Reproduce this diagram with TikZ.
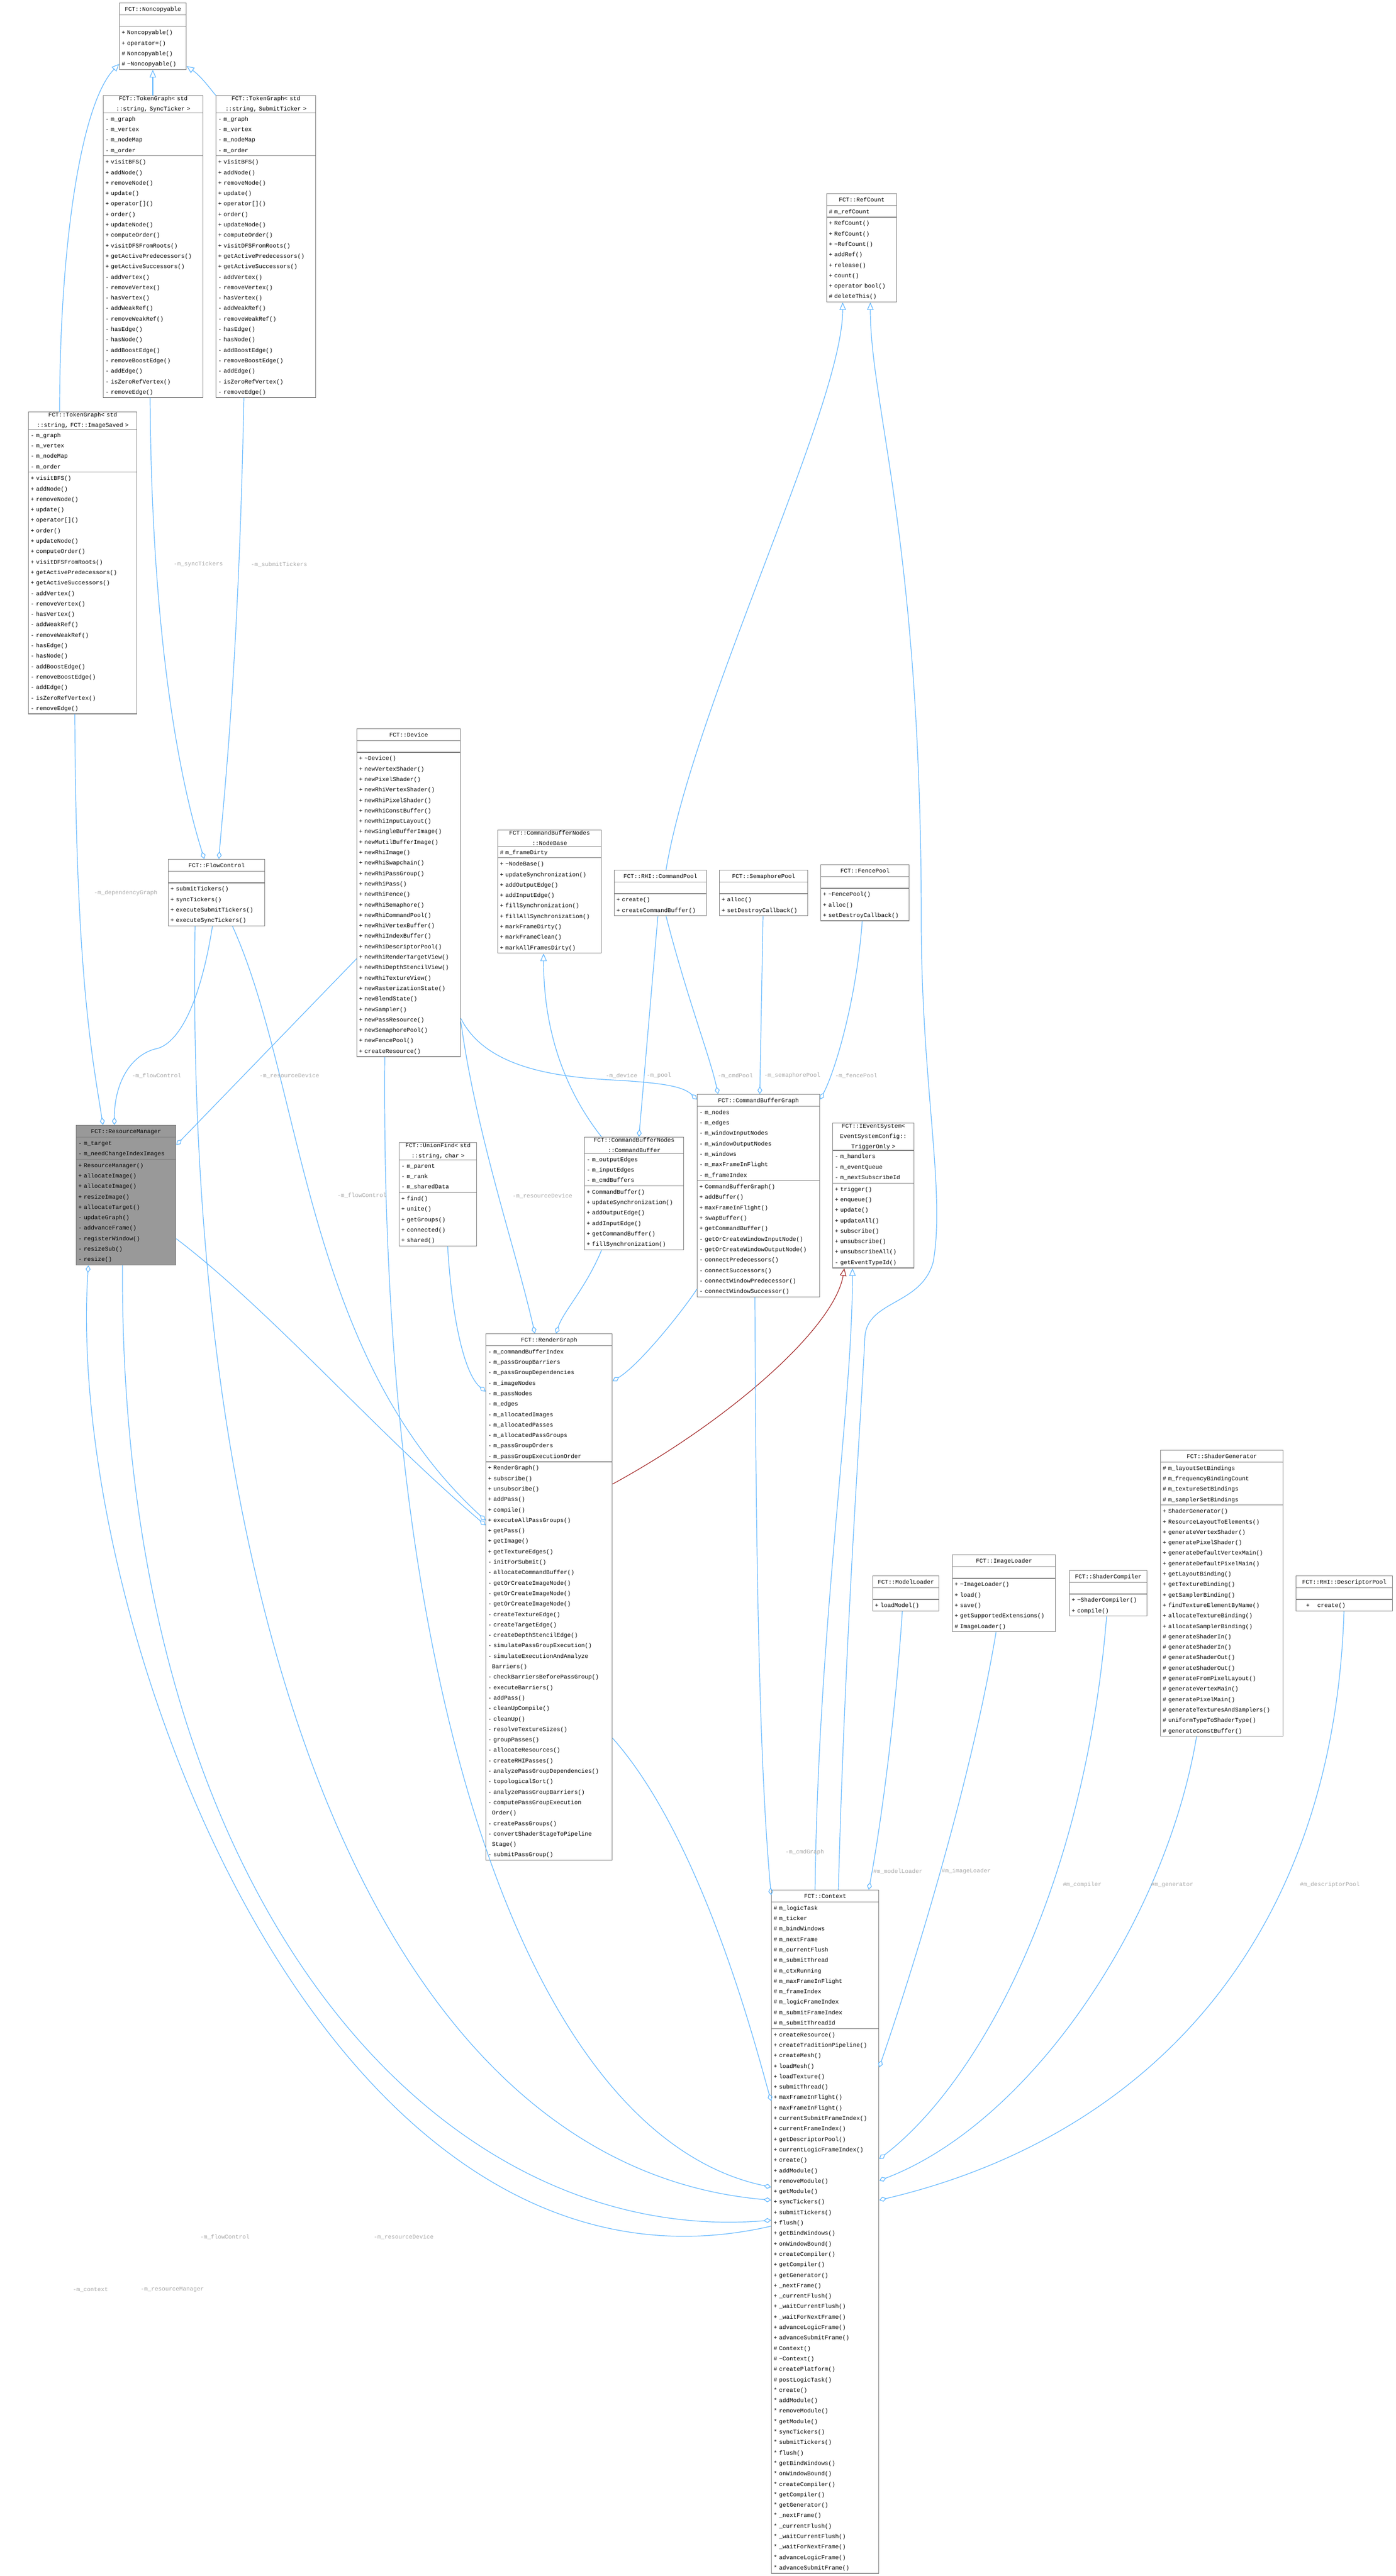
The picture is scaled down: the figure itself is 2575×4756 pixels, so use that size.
\documentclass[tikz,border=0pt]{standalone}
\usepackage{fontspec}
\usetikzlibrary{shapes.multipart,arrows.meta}
\newfontfamily\cf{Liberation Mono}
\definecolor{eblue}{HTML}{63B8FF}
\definecolor{bgray}{HTML}{808080}
\definecolor{lgray}{HTML}{A8A8A8}
\definecolor{ered}{HTML}{A52A2A}
\newcommand\Rs{\rule[-5.5pt]{0pt}{19.3pt}}
\newcommand\I[1]{\Rs#1\par}
\newcommand\T[1]{\centering #1\par}
\newcommand\E{\Rs\par}
\tikzset{
 cls/.style={draw=bgray, line width=1.3pt, fill=white, rectangle split, rectangle split parts=3,
   inner xsep=4pt, inner ysep=0.5pt, anchor=north west, font={\cf\fontsize{10.8}{19.3}\selectfont}},
 lbl/.style={text=lgray, font={\cf\fontsize{10.8}{13}\selectfont}, inner sep=0pt},
 agg/.style={draw=eblue, line width=1.2pt, -{Diamond[open,length=14pt,width=9pt]}},
 inh/.style={draw=eblue, line width=1.2pt, -{Triangle[open,length=14pt,width=12pt]}},
 inhr/.style={draw=ered, line width=1.2pt, -{Triangle[open,length=14pt,width=12pt]}}
}
\newcommand\tgm{\I{+ visitBFS()}\I{+ addNode()}\I{+ removeNode()}\I{+ update()}\I{+ operator[]()}\I{+ order()}\I{+ updateNode()}\I{+ computeOrder()}\I{+ visitDFSFromRoots()}\I{+ getActivePredecessors()}\I{+ getActiveSuccessors()}\I{- addVertex()}\I{- removeVertex()}\I{- hasVertex()}\I{- addWeakRef()}\I{- removeWeakRef()}\I{- hasEdge()}\I{- hasNode()}\I{- addBoostEdge()}\I{- removeBoostEdge()}\I{- addEdge()}\I{- isZeroRefVertex()}\I{- removeEdge()}}
\newcommand\tga{\I{- m\_graph}\I{- m\_vertex}\I{- m\_nodeMap}\I{- m\_order}}
\begin{document}
\begin{tikzpicture}[x=1pt,y=-1pt]
\useasboundingbox[fill=white] (0,0) rectangle (2575,4756);

\node[cls, text width=115pt] (nc) at (220,5) {\T{\Rs FCT::Noncopyable}\nodepart{second}\E\nodepart{third}\I{+ Noncopyable()}\I{+ operator=()}\I{\# Noncopyable()}\I{\# \textasciitilde Noncopyable()}};
\node[cls, text width=176pt] (tgs) at (190,176) {\T{FCT::TokenGraph< std\\::string, SyncTicker >}\nodepart{second}\tga\nodepart{third}\tgm};
\node[cls, text width=176pt] (tgb) at (398,176) {\T{FCT::TokenGraph< std\\::string, SubmitTicker >}\nodepart{second}\tga\nodepart{third}\tgm};
\node[cls, text width=192pt] (tgi) at (52,760) {\T{FCT::TokenGraph< std\\::string, FCT::ImageSaved >}\nodepart{second}\tga\nodepart{third}\tgm};
\node[cls, text width=121pt] (rc) at (1525,357) {\T{\Rs FCT::RefCount}\nodepart{second}\I{\# m\_refCount}\nodepart{third}\I{+ RefCount()}\I{+ RefCount()}\I{+ \textasciitilde RefCount()}\I{+ addRef()}\I{+ release()}\I{+ count()}\I{+ operator bool()}\I{\# deleteThis()}};
\node[cls, text width=183pt] (dev) at (658,1345) {\T{\Rs FCT::Device}\nodepart{second}\E\nodepart{third}\I{+ \textasciitilde Device()}\I{+ newVertexShader()}\I{+ newPixelShader()}\I{+ newRhiVertexShader()}\I{+ newRhiPixelShader()}\I{+ newRhiConstBuffer()}\I{+ newRhiInputLayout()}\I{+ newSingleBufferImage()}\I{+ newMutilBufferImage()}\I{+ newRhiImage()}\I{+ newRhiSwapchain()}\I{+ newRhiPassGroup()}\I{+ newRhiPass()}\I{+ newRhiFence()}\I{+ newRhiSemaphore()}\I{+ newRhiCommandPool()}\I{+ newRhiVertexBuffer()}\I{+ newRhiIndexBuffer()}\I{+ newRhiDescriptorPool()}\I{+ newRhiRenderTargetView()}\I{+ newRhiDepthStencilView()}\I{+ newRhiTextureView()}\I{+ newRasterizationState()}\I{+ newBlendState()}\I{+ newSampler()}\I{+ newPassResource()}\I{+ newSemaphorePool()}\I{+ newFencePool()}\I{+ createResource()}};
\node[cls, text width=183pt] (nb) at (918,1532) {\T{FCT::CommandBufferNodes\\::NodeBase}\nodepart{second}\I{\# m\_frameDirty}\nodepart{third}\I{+ \textasciitilde NodeBase()}\I{+ updateSynchronization()}\I{+ addOutputEdge()}\I{+ addInputEdge()}\I{+ fillSynchronization()}\I{+ fillAllSynchronization()}\I{+ markFrameDirty()}\I{+ markFrameClean()}\I{+ markAllFramesDirty()}};
\node[cls, text width=162pt] (cp) at (1133,1606) {\T{\Rs FCT::RHI::CommandPool}\nodepart{second}\E\nodepart{third}\I{+ create()}\I{+ createCommandBuffer()}};
\node[cls, text width=155pt] (sp) at (1327,1606) {\T{\Rs FCT::SemaphorePool}\nodepart{second}\E\nodepart{third}\I{+ alloc()}\I{+ setDestroyCallback()}};
\node[cls, text width=155pt] (fp) at (1514,1596) {\T{\Rs FCT::FencePool}\nodepart{second}\E\nodepart{third}\I{+ \textasciitilde FencePool()}\I{+ alloc()}\I{+ setDestroyCallback()}};
\node[cls, text width=170pt] (fc) at (310,1586) {\T{\Rs FCT::FlowControl}\nodepart{second}\E\nodepart{third}\I{+ submitTickers()}\I{+ syncTickers()}\I{+ executeSubmitTickers()}\I{+ executeSyncTickers()}};
\node[cls, text width=176pt, fill=gray!80, rectangle split part fill={gray!80}] (rm) at (140,2077) {\T{\Rs FCT::ResourceManager}\nodepart{second}\I{- m\_target}\I{- m\_needChangeIndexImages}\nodepart{third}\I{+ ResourceManager()}\I{+ allocateImage()}\I{+ allocateImage()}\I{+ resizeImage()}\I{+ allocateTarget()}\I{- updateGraph()}\I{- addvanceFrame()}\I{- registerWindow()}\I{- resizeSub()}\I{- resize()}};
\node[cls, text width=135pt] (uf) at (736,2109) {\T{FCT::UnionFind< std\\::string, char >}\nodepart{second}\I{- m\_parent}\I{- m\_rank}\I{- m\_sharedData}\nodepart{third}\I{+ find()}\I{+ unite()}\I{+ getGroups()}\I{+ connected()}\I{+ shared()}};
\node[cls, text width=175pt] (cb) at (1078,2099) {\T{FCT::CommandBufferNodes\\::CommandBuffer}\nodepart{second}\I{- m\_outputEdges}\I{- m\_inputEdges}\I{- m\_cmdBuffers}\nodepart{third}\I{+ CommandBuffer()}\I{+ updateSynchronization()}\I{+ addOutputEdge()}\I{+ addInputEdge()}\I{+ getCommandBuffer()}\I{+ fillSynchronization()}};
\node[cls, text width=218pt] (cbg) at (1286,2020) {\T{\Rs FCT::CommandBufferGraph}\nodepart{second}\I{- m\_nodes}\I{- m\_edges}\I{- m\_windowInputNodes}\I{- m\_windowOutputNodes}\I{- m\_windows}\I{- m\_maxFrameInFlight}\I{- m\_frameIndex}\nodepart{third}\I{+ CommandBufferGraph()}\I{+ addBuffer()}\I{+ maxFrameInFlight()}\I{+ swapBuffer()}\I{+ getCommandBuffer()}\I{- getOrCreateWindowInputNode()}\I{- getOrCreateWindowOutputNode()}\I{- connectPredecessors()}\I{- connectSuccessors()}\I{- connectWindowPredecessor()}\I{- connectWindowSuccessor()}};
\node[cls, text width=142pt] (ie) at (1536,2073) {\T{FCT::IEventSystem<\\EventSystemConfig::\\TriggerOnly >}\nodepart{second}\I{- m\_handlers}\I{- m\_eventQueue}\I{- m\_nextSubscribeId}\nodepart{third}\I{+ trigger()}\I{+ enqueue()}\I{+ update()}\I{+ updateAll()}\I{+ subscribe()}\I{+ unsubscribe()}\I{+ unsubscribeAll()}\I{- getEventTypeId()}};
\node[cls, text width=225pt] (rg) at (896,2462) {\T{\Rs FCT::RenderGraph}\nodepart{second}\I{- m\_commandBufferIndex}\I{- m\_passGroupBarriers}\I{- m\_passGroupDependencies}\I{- m\_imageNodes}\I{- m\_passNodes}\I{- m\_edges}\I{- m\_allocatedImages}\I{- m\_allocatedPasses}\I{- m\_allocatedPassGroups}\I{- m\_passGroupOrders}\I{- m\_passGroupExecutionOrder}\nodepart{third}\I{+ RenderGraph()}\I{+ subscribe()}\I{+ unsubscribe()}\I{+ addPass()}\I{+ compile()}\I{+ executeAllPassGroups()}\I{+ getPass()}\I{+ getImage()}\I{+ getTextureEdges()}\I{- initForSubmit()}\I{- allocateCommandBuffer()}\I{- getOrCreateImageNode()}\I{- getOrCreateImageNode()}\I{- getOrCreateImageNode()}\I{- createTextureEdge()}\I{- createTargetEdge()}\I{- createDepthStencilEdge()}\I{- simulatePassGroupExecution()}\I{- simulateExecutionAndAnalyze}\I{\ \ Barriers()}\I{- checkBarriersBeforePassGroup()}\I{- executeBarriers()}\I{- addPass()}\I{- cleanUpCompile()}\I{- cleanUp()}\I{- resolveTextureSizes()}\I{- groupPasses()}\I{- allocateResources()}\I{- createRHIPasses()}\I{- analyzePassGroupDependencies()}\I{- topologicalSort()}\I{- analyzePassGroupBarriers()}\I{- computePassGroupExecution}\I{\ \ Order()}\I{- createPassGroups()}\I{- convertShaderStageToPipeline}\I{\ \ Stage()}\I{- submitPassGroup()}};
\node[cls, text width=114pt] (ml) at (1610,2909) {\T{\Rs FCT::ModelLoader}\nodepart{second}\E\nodepart{third}\I{+ loadModel()}};
\node[cls, text width=182pt] (il) at (1757,2870) {\T{\Rs FCT::ImageLoader}\nodepart{second}\E\nodepart{third}\I{+ \textasciitilde ImageLoader()}\I{+ load()}\I{+ save()}\I{+ getSupportedExtensions()}\I{\# ImageLoader()}};
\node[cls, text width=135pt] (sc) at (1973,2899) {\T{\Rs FCT::ShaderCompiler}\nodepart{second}\E\nodepart{third}\I{+ \textasciitilde ShaderCompiler()}\I{+ compile()}};
\node[cls, text width=218pt] (sg) at (2141,2677) {\T{\Rs FCT::ShaderGenerator}\nodepart{second}\I{\# m\_layoutSetBindings}\I{\# m\_frequencyBindingCount}\I{\# m\_textureSetBindings}\I{\# m\_samplerSetBindings}\nodepart{third}\I{+ ShaderGenerator()}\I{+ ResourceLayoutToElements()}\I{+ generateVertexShader()}\I{+ generatePixelShader()}\I{+ generateDefaultVertexMain()}\I{+ generateDefaultPixelMain()}\I{+ getLayoutBinding()}\I{+ getTextureBinding()}\I{+ getSamplerBinding()}\I{+ findTextureElementByName()}\I{+ allocateTextureBinding()}\I{+ allocateSamplerBinding()}\I{\# generateShaderIn()}\I{\# generateShaderIn()}\I{\# generateShaderOut()}\I{\# generateShaderOut()}\I{\# generateFromPixelLayout()}\I{\# generateVertexMain()}\I{\# generatePixelMain()}\I{\# generateTexturesAndSamplers()}\I{\# uniformTypeToShaderType()}\I{\# generateConstBuffer()}};
\node[cls, text width=170pt] (dp) at (2391,2909) {\T{\Rs FCT::RHI::DescriptorPool}\nodepart{second}\E\nodepart{third}\I{\ \ \ \ + \ \ \ create()}};
\node[cls, text width=190pt] (ctx) at (1423,3489) {\T{\Rs FCT::Context}\nodepart{second}\I{\# m\_logicTask}\I{\# m\_ticker}\I{\# m\_bindWindows}\I{\# m\_nextFrame}\I{\# m\_currentFlush}\I{\# m\_submitThread}\I{\# m\_ctxRunning}\I{\# m\_maxFrameInFlight}\I{\# m\_frameIndex}\I{\# m\_logicFrameIndex}\I{\# m\_submitFrameIndex}\I{\# m\_submitThreadId}\nodepart{third}\I{+ createResource()}\I{+ createTraditionPipeline()}\I{+ createMesh()}\I{+ loadMesh()}\I{+ loadTexture()}\I{+ submitThread()}\I{+ maxFrameInFlight()}\I{+ maxFrameInFlight()}\I{+ currentSubmitFrameIndex()}\I{+ currentFrameIndex()}\I{+ getDescriptorPool()}\I{+ currentLogicFrameIndex()}\I{+ create()}\I{+ addModule()}\I{+ removeModule()}\I{+ getModule()}\I{+ syncTickers()}\I{+ submitTickers()}\I{+ flush()}\I{+ getBindWindows()}\I{+ onWindowBound()}\I{+ createCompiler()}\I{+ getCompiler()}\I{+ getGenerator()}\I{+ \_nextFrame()}\I{+ \_currentFlush()}\I{+ \_waitCurrentFlush()}\I{+ \_waitForNextFrame()}\I{+ advanceLogicFrame()}\I{+ advanceSubmitFrame()}\I{\# Context()}\I{\# \textasciitilde Context()}\I{\# createPlatform()}\I{\# postLogicTask()}\I{* create()}\I{* addModule()}\I{* removeModule()}\I{* getModule()}\I{* syncTickers()}\I{* submitTickers()}\I{* flush()}\I{* getBindWindows()}\I{* onWindowBound()}\I{* createCompiler()}\I{* getCompiler()}\I{* getGenerator()}\I{* \_nextFrame()}\I{* \_currentFlush()}\I{* \_waitCurrentFlush()}\I{* \_waitForNextFrame()}\I{* advanceLogicFrame()}\I{* advanceSubmitFrame()}};

% inheritance
\draw[inh] (110,0 |- tgi.north) .. controls (110,450) and (150,190) .. (nc.west |- 0,118);
\draw[inh] (282,0 |- tgs.north) -- (282,0 |- nc.south);
\draw[inh] (tgb.north west) .. controls (385,160) and (370,140) .. (nc.east |- 0,122);
\draw[inh] (1110,0 |- cb.north) .. controls (1040,2010) and (1003,1900) .. (1003,0 |- nb.south);
\draw[inh] (1229,0 |- cp.north) .. controls (1280,1300) and (1555,750) .. (1555,0 |- rc.south);
\draw[inh] (1547,0 |- ctx.north) .. controls (1560,3000) and (1590,2600) .. (1596,2467) .. controls (1602,2400) and (1700,2410) .. (1722,2330) .. controls (1745,2200) and (1700,2000) .. (1700,1700) .. controls (1700,1000) and (1606,750) .. (1606,0 |- rc.south);
\draw[inh] (1504,0 |- ctx.north) .. controls (1510,3000) and (1573,2600) .. (1573,0 |- ie.south);
\draw[inhr] (rg.east |- 0,2740) .. controls (1350,2620) and (1540,2450) .. (1558,0 |- ie.south);

% aggregation
\draw[agg] (277,0 |- tgs.south) .. controls (280,1250) and (350,1500) .. (377,0 |- fc.north);
\draw[agg] (450,0 |- tgb.south) .. controls (440,1250) and (410,1500) .. (404,0 |- fc.north);
\draw[agg] (138,0 |- tgi.south) .. controls (140,1800) and (170,1950) .. (190,0 |- rm.north);
\draw[agg] (392,0 |- fc.south) .. controls (370,1850) and (330,1930) .. (285,1937) .. controls (240,1950) and (211,2000) .. (211,0 |- rm.north);
\draw[agg] (dev.west |- 0,1770) -- (rm.east |- 0,2114);
\draw[agg] (429,0 |- fc.south) .. controls (560,2000) and (560,2500) .. (rg.west |- 0,2807);
\draw[agg] (rm.east |- 0,2287) .. controls (500,2420) and (700,2650) .. (rg.west |- 0,2816);
\draw[agg] (826,0 |- uf.south) .. controls (835,2450) and (860,2540) .. (rg.west |- 0,2569);
\draw[agg] (dev.east |- 0,1886) .. controls (880,2100) and (950,2300) .. (987,0 |- rg.north);
\draw[agg] (1110,0 |- cb.south) .. controls (1080,2380) and (1040,2420) .. (1026,0 |- rg.north);
\draw[agg] (cbg.west |- 0,2380) .. controls (1260,2420) and (1180,2520) .. (rg.east |- 0,2550);
\draw[agg] (dev.east |- 0,1880) .. controls (900,1980) and (1050,1990) .. (1150,1995) .. controls (1220,2000) and (1260,2005) .. (cbg.west |- 0,2030);
\draw[agg] (1214,0 |- cp.south) -- (1179,0 |- cb.north);
\draw[agg] (1229,0 |- cp.south) .. controls (1270,1850) and (1310,1950) .. (1325,0 |- cbg.north);
\draw[agg] (1408,0 |- sp.south) -- (1402,0 |- cbg.north);
\draw[agg] (1591,0 |- fp.south) .. controls (1580,1850) and (1540,1980) .. (cbg.east |- 0,2030);
\draw[agg] (1393,0 |- cbg.south) .. controls (1395,3000) and (1405,3300) .. (ctx.west |- 0,3499);
\draw[agg] (rg.east |- 0,3209) .. controls (1300,3400) and (1400,3800) .. (ctx.west |- 0,3879);
\draw[agg] (710,0 |- dev.south) .. controls (700,3200) and (1000,3950) .. (ctx.west |- 0,4038);
\draw[agg] (360,0 |- fc.south) .. controls (340,3000) and (700,4000) .. (ctx.west |- 0,4062);
\draw[agg] (226,0 |- rm.south) .. controls (220,3500) and (800,4150) .. (ctx.west |- 0,4099);
\draw[agg] (ctx.west |- 0,4110) .. controls (600,4300) and (120,3000) .. (163,0 |- rm.south);
\draw[agg] (1665,0 |- ml.south) .. controls (1650,3200) and (1620,3400) .. (1603,0 |- ctx.north);
\draw[agg] (1838,0 |- il.south) .. controls (1790,3300) and (1680,3650) .. (ctx.east |- 0,3817);
\draw[agg] (2042,0 |- sc.south) .. controls (2000,3500) and (1800,3850) .. (ctx.east |- 0,3986);
\draw[agg] (2208,0 |- sg.south) .. controls (2150,3550) and (1900,3920) .. (ctx.east |- 0,4026);
\draw[agg] (2480,0 |- dp.south) .. controls (2460,3600) and (2100,3950) .. (ctx.east |- 0,4062);

% labels
\node[lbl] (l1) at (366,1042) {-m\_syncTickers};
\node[lbl] (l2) at (515,1042) {-m\_submitTickers};
\node[lbl] (l3) at (232,1649) {-m\_dependencyGraph};
\node[lbl] (l4) at (289,1986) {-m\_flowControl};
\node[lbl] (l5) at (534,1986) {-m\_resourceDevice};
\node[lbl] (l6) at (668,2207) {-m\_flowControl};
\node[lbl] (l7) at (1001,2208) {-m\_resourceDevice};
\node[lbl] (l8) at (1147,1986) {-m\_device};
\node[lbl] (l9) at (1216,1986) {-m\_pool};
\node[lbl] (l10) at (1357,1986) {-m\_cmdPool};
\node[lbl] (l11) at (1462,1986) {-m\_semaphorePool};
\node[lbl] (l12) at (1580,1986) {-m\_fencePool};
\node[lbl] (l13) at (167,4227) {-m\_context};
\node[lbl] (l14) at (318,4227) {-m\_resourceManager};
\node[lbl] (l15) at (415,4130) {-m\_flowControl};
\node[lbl] (l16) at (745,4130) {-m\_resourceDevice};
\node[lbl] (l17) at (1657,3455) {\#m\_modelLoader};
\node[lbl] (l18) at (1783,3455) {\#m\_imageLoader};
\node[lbl] (l19) at (1997,3480) {\#m\_compiler};
\node[lbl] (l20) at (2163,3480) {\#m\_generator};
\node[lbl] (l21) at (2454,3480) {\#m\_descriptorPool};
\node[lbl] (l22) at (1485,3420) {-m\_cmdGraph};
\end{tikzpicture}
\end{document}
